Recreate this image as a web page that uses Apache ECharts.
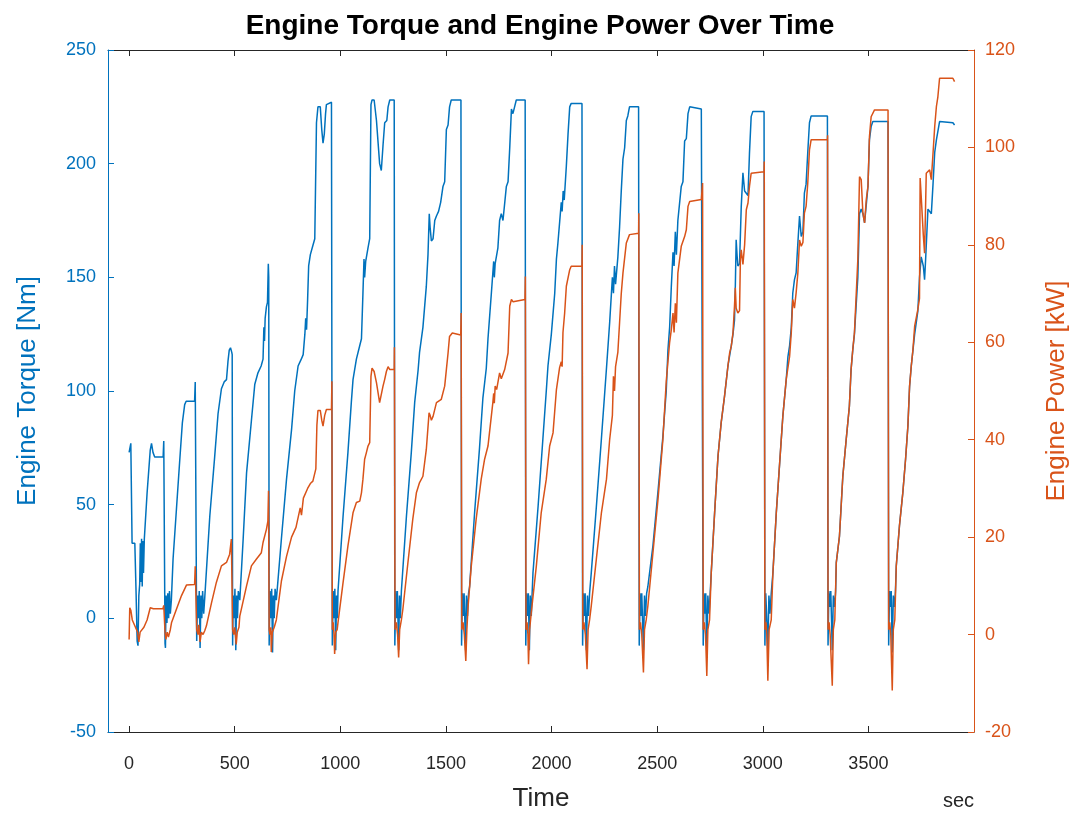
<!DOCTYPE html>
<html>
<head>
<meta charset="utf-8">
<script src="https://cdn.jsdelivr.net/npm/echarts@6/dist/echarts.min.js"></script>
<style>
html,body{margin:0;padding:0;background:#fff;}
#chart{width:1080px;height:817px;}
</style>
</head>
<body>
<div id="chart"></div>
<script>
// ---- data (time in sec) ----
const xTicks = [0, 500, 1000, 1500, 2000, 2500, 3000, 3500];

// Engine torque [Nm] : [time, value]
const torqueSeries = [
[0,73],[8,77],[12,77],[14,33],[27,33],[33,11],[38,-10],[42,-12],[46,10],[50,15],[53,33],[56,16],[59,35],[62,14],[65,34],[68,20],[72,35],[85,55],[100,74],[106,77],[113,73],[121,71],[161,71],[164,78],[168,78],
[170,-11],[172,-13],[175,10],[179,-2],[183,11],[187,0],[191,12],[195,2],[200,8],[208,26],[224,48],[240,70],[252,86],[263,94],[270,95.5],[310,95.5],[313,104],[318,104],
[320,-10],[324,10],[328,0],[332,12],[336,-13],[340,10],[344,0],[348,12],[353,2],[358,9],[382,45],[405,71],[421,90],[437,101],[450,104],[461,105],[468,113],[474,118],[480,119],[486,117],[488,116],
[490,-12],[493,10],[497,0],[501,13],[505,-14],[509,10],[513,0],[517,12],[524,8],[540,35],[556,64],[579,87],[595,103],[610,108],[625,111],[634,114],[638,128],[641,122],[644,132],[650,137],[655,139],[659,156],[661,150],
[663,-12],[667,12],[671,0],[675,13],[679,-15],[683,10],[687,0],[691,13],[697,8],[721,35],[745,61],[769,83],[784,100],[800,111],[815,114],[824,116],[832,125],[836,132],[840,127],[845,140],[850,155],[858,160],[870,164],[879,167],[887,218],[894,225],[905,225],[912,215],[918,209],[924,213],[930,222],[934,226],[958,227],
[962,-12],[966,12],[970,0],[974,13],[978,-14],[982,10],[986,0],[989,12],[1013,45],[1036,73],[1052,95],[1060,105],[1076,114],[1092,120],[1100,123],[1107,143],[1112,158],[1115,150],[1120,157],[1131,163],[1139,167],[1145,226],[1150,228],[1160,228],[1171,219],[1186,200],[1194,197],[1202,208],[1210,218],[1220,219],[1226,225],[1234,228],[1255,228],
[1258,-12],[1262,12],[1266,0],[1270,12],[1276,-14],[1280,10],[1284,0],[1289,12],[1313,45],[1336,73],[1352,95],[1368,109],[1375,117],[1391,128],[1407,146],[1415,160],[1421,178],[1425,172],[1431,166],[1439,167],[1447,175],[1455,177],[1465,179],[1475,183],[1486,190],[1494,192],[1502,215],[1510,217],[1517,225],[1525,228],[1571,228],
[1574,-12],[1578,11],[1582,1],[1586,11],[1593,-14],[1597,10],[1602,1],[1607,11],[1612,14],[1636,47],[1659,75],[1675,97],[1691,110],[1699,123],[1715,143],[1722,152],[1726,157],[1729,150],[1733,156],[1746,163],[1754,175],[1762,178],[1770,175],[1786,190],[1794,192],[1802,207],[1810,224],[1817,222],[1825,225],[1833,228],[1875,228],
[1878,-12],[1882,11],[1886,1],[1890,11],[1895,-14],[1899,10],[1904,1],[1908,11],[1912,20],[1936,49],[1959,79],[1975,100],[1983,111],[1999,125],[2015,143],[2023,158],[2030,165],[2046,183],[2050,179],[2055,188],[2060,184],[2070,199],[2078,213],[2086,225],[2093,226.5],[2144,226.5],
[2147,-12],[2151,11],[2155,1],[2159,11],[2165,-14],[2170,10],[2175,1],[2180,11],[2188,20],[2212,49],[2236,79],[2260,110],[2275,130],[2288,150],[2293,143],[2298,155],[2303,147],[2314,159],[2322,172],[2330,188],[2338,202],[2346,207],[2354,219],[2361,221],[2369,225],[2412,225],
[2415,-12],[2419,11],[2423,1],[2427,11],[2435,-14],[2440,10],[2445,1],[2450,11],[2456,14],[2480,32],[2504,56],[2527,80],[2543,100],[2551,118],[2559,128],[2567,146],[2575,161],[2580,155],[2586,170],[2591,160],[2598,175],[2614,190],[2622,192],[2630,210],[2638,211],[2646,222],[2654,225],[2709,224],[2715,224],
[2718,-12],[2722,11],[2726,2],[2730,11],[2735,-14],[2740,10],[2746,2],[2751,11],[2756,20],[2772,46.5],[2788,71.4],[2803,86],[2819,97.7],[2835,111],[2851,120],[2859,125],[2866,131],[2870,146],[2874,166.5],[2878,160],[2882,155],[2890,156],[2898,181],[2906,196],[2914,188],[2922,187],[2930,186],[2937,204.6],[2945,220.7],[2953,223],[3006,223],
[3010,-12],[3014,11],[3018,2],[3024,-14],[3029,10],[3034,2],[3040,11],[3048,20],[3064,46.5],[3080,68.4],[3095,89],[3111,105],[3119,115],[3127,120],[3135,128],[3142,143],[3150,149],[3158,152],[3166,165],[3174,177],[3182,168],[3190,170],[3197,187],[3205,191],[3213,205],[3221,218],[3229,221],[3306,221],
[3309,-12],[3313,12],[3317,5],[3322,12],[3329,-14],[3334,10],[3340,5],[3345,12],[3348,24.5],[3363,36],[3379,62.6],[3395,78.7],[3410,93.3],[3418,109.4],[3426,118],[3434,125],[3450,150],[3458,178],[3466,180],[3474,178],[3482,174],[3490,182],[3498,190],[3505,210.5],[3513,216.3],[3521,218.5],[3593,218.5],
[3596,-12],[3600,12],[3604,5],[3608,12],[3613,-15],[3618,10],[3624,5],[3628,12],[3632,23],[3647,40.6],[3663,55.3],[3676,70],[3687,84.5],[3695,102],[3703,111],[3711,118],[3719,125],[3734,135],[3742,150],[3750,159],[3760,155],[3766,149],[3771,158],[3782,180],[3790,179],[3798,178],[3806,191],[3814,205],[3822,210.5],[3837,218.5],[3900,218],[3908,217]
];

// Engine power [kW] : [time, value]
const powerSeries = [
[0,-1],[3,5.5],[8,5],[15,3],[30,1.5],[40,0.5],[46,-1.5],[52,0.5],[60,0.8],[70,1.5],[85,3],[100,5.5],[115,5.3],[160,5.3],[164,6],[168,6],
[170,0.5],[174,-1],[180,0.5],[186,-0.5],[195,1],[201,2.5],[224,5.2],[248,8],[272,10.2],[310,10.3],[313,14],[318,14],
[320,1],[326,0],[330,2],[336,-1.5],[342,0.5],[350,0],[358,0.8],[366,1.8],[390,6.5],[413,10.7],[437,14.1],[461,14.8],[476,16.5],[484,19.6],[488,20],
[490,1],[495,0],[500,1.5],[507,-2],[512,0.5],[520,1.5],[524,3.8],[556,10],[579,14.1],[603,15.5],[626,16.8],[634,18.9],[650,21.6],[657,23.3],[660,29.5],[661,29.5],
[663,1],[667,0],[671,1.5],[673,-3.6],[678,0.5],[687,1.5],[697,3],[721,11],[745,16],[769,20],[790,22],[810,26],[816,24.5],[825,28],[845,30],[858,31],[870,31.5],[884,34],[889,43],[894,46],[905,46],[912,44],[918,42.8],[926,45],[934,46.2],[958,46.2],[960,52],
[962,1],[966,2.5],[970,0],[973,-4],[978,0.5],[985,1],[989,2.5],[1013,10.7],[1036,18.2],[1060,25],[1076,27.1],[1092,27.4],[1100,29.1],[1107,31.9],[1115,36],[1123,37.3],[1131,38.7],[1139,39.4],[1145,53],[1150,54.7],[1160,54],[1171,51.7],[1186,47.6],[1194,47.2],[1202,51],[1210,52.4],[1218,54],[1226,55],[1234,54.4],[1255,54.4],[1256,59],
[1259,1],[1265,2.5],[1271,0],[1276,-4.7],[1281,1],[1289,3],[1296,5.2],[1320,14.8],[1343,23.7],[1360,29.1],[1375,31.2],[1391,32.5],[1407,38],[1420,45.5],[1425,45],[1431,44],[1439,44.8],[1455,47.6],[1478,48.3],[1494,51],[1502,54.4],[1510,57.8],[1517,61.2],[1530,61.9],[1570,61.5],[1572,66],
[1575,1],[1581,2.5],[1587,0],[1594,-5.4],[1599,1],[1605,5.9],[1620,14.1],[1643,23.7],[1667,31.9],[1683,36],[1699,38.7],[1722,47.6],[1726,49.5],[1729,47.5],[1733,51],[1740,50.3],[1754,53.7],[1762,52.5],[1778,54.4],[1794,57.8],[1802,67.4],[1810,68.8],[1818,68.3],[1874,68.8],[1876,73.5],
[1879,1],[1884,2.5],[1888,0],[1891,-6.1],[1896,1],[1904,4.5],[1928,14.1],[1951,25],[1975,31.9],[1991,38.7],[2007,41.4],[2023,50.3],[2038,54.8],[2046,56],[2050,55],[2054,62],[2062,66],[2070,71.5],[2086,74.9],[2093,75.6],[2144,75.6],[2145,80],
[2148,1],[2153,2.5],[2160,0],[2168,-7.1],[2173,1],[2180,3],[2188,5.9],[2212,15.5],[2236,25],[2260,31.9],[2275,40],[2288,45],[2293,53],[2298,50],[2303,55],[2314,58],[2322,64],[2330,70],[2338,74.2],[2354,80.4],[2369,82.1],[2412,82.4],[2413,86.5],
[2416,1],[2421,2.5],[2427,0],[2435,-7.8],[2440,1],[2448,3],[2456,5.9],[2480,16.8],[2504,27.8],[2527,40],[2543,52],[2559,60],[2567,62.6],[2575,66],[2580,62],[2586,68],[2591,64],[2598,74.2],[2614,79.7],[2630,81.7],[2638,83.1],[2646,87.9],[2654,88.9],[2709,89.3],[2715,92.7],
[2718,1],[2723,2.5],[2729,0],[2735,-8.5],[2740,1],[2748,3],[2756,12.7],[2772,25],[2788,36.6],[2803,43.5],[2819,49],[2835,55.1],[2843,57.8],[2851,59.2],[2859,62],[2866,67.4],[2870,71.2],[2874,67],[2882,66],[2890,66.5],[2894,77],[2898,79],[2906,76],[2914,80],[2922,87.2],[2930,88.6],[2937,92],[2945,94.7],[2953,95],[3006,95],[3007,97.1],
[3010,1],[3015,2.5],[3019,0],[3024,-9.5],[3030,1],[3040,3],[3048,12.7],[3064,25],[3080,35.3],[3095,44.8],[3111,52.4],[3127,57.1],[3135,62],[3142,68.8],[3150,67],[3158,70.2],[3166,74.2],[3174,81],[3182,79.7],[3190,80.5],[3197,86.5],[3205,87.9],[3213,92.7],[3221,99.5],[3229,101.6],[3306,101.6],[3307,102.5],
[3309,1],[3314,2.5],[3319,0],[3329,-10.5],[3334,1],[3341,3],[3348,14.8],[3363,20.2],[3379,32.5],[3395,40.1],[3410,46.9],[3418,54.4],[3426,58.5],[3434,62],[3450,77],[3458,94],[3466,93.4],[3474,86.5],[3482,84.5],[3490,89.3],[3498,92],[3505,102.2],[3513,106.3],[3529,107.7],[3593,107.7],[3594,108],
[3596,1],[3601,2.5],[3606,0],[3613,-11.5],[3618,1],[3625,3],[3632,14.1],[3647,22.3],[3663,29.1],[3676,36],[3687,42.8],[3695,51],[3703,55.1],[3711,58.5],[3719,63.3],[3734,66.7],[3742,69],[3745,93.7],[3750,90],[3760,82],[3766,78.3],[3774,94.7],[3790,95.4],[3798,93.4],[3806,98.8],[3814,104.3],[3822,108.4],[3829,110.4],[3837,114.2],[3900,114.2],[3908,113.5]
];

// ---- chart ----
const BLUE = '#0072BD', ORANGE = '#D95319', DARK = '#262626';
const FONT = "'Liberation Sans', Arial, Helvetica, sans-serif";
const plain = v => String(v);
const chart = echarts.init(document.getElementById('chart'), null, {renderer: 'canvas'});
chart.setOption({
  animation: false,
  backgroundColor: '#ffffff',
  textStyle: {fontFamily: FONT},
  title: {
    text: 'Engine Torque and Engine Power Over Time',
    left: 'center', top: 7,
    textStyle: {fontFamily: FONT, fontWeight: 'bold', fontSize: 28, color: '#000'}
  },
  grid: {left: 108, right: 106, top: 50, bottom: 84, containLabel: false},
  xAxis: [{
    type: 'value', min: -100, max: 4000, position: 'bottom',
    name: 'Time', nameLocation: 'middle', nameGap: 54,
    nameTextStyle: {fontFamily: FONT, fontSize: 26, color: DARK},
    axisLine: {show: true, onZero: false, lineStyle: {color: DARK, width: 1}},
    axisTick: {show: true, inside: true, length: 6, customValues: xTicks, lineStyle: {color: DARK}},
    axisLabel: {show: true, customValues: xTicks, formatter: plain, margin: 23, fontFamily: FONT, fontSize: 18, color: DARK},
    splitLine: {show: false}
  }, {
    type: 'value', min: -100, max: 4000, position: 'top',
    axisLine: {show: true, onZero: false, lineStyle: {color: DARK, width: 1}},
    axisTick: {show: true, inside: true, length: 6, customValues: xTicks, lineStyle: {color: DARK}},
    axisLabel: {show: false},
    splitLine: {show: false}
  }],
  yAxis: [{
    type: 'value', min: -50, max: 250, interval: 50, position: 'left',
    name: 'Engine Torque [Nm]', nameLocation: 'middle', nameGap: 67, nameRotate: 90,
    nameTextStyle: {fontFamily: FONT, fontSize: 26, color: BLUE},
    axisLine: {show: true, onZero: false, lineStyle: {color: BLUE, width: 1}},
    axisTick: {show: true, inside: true, length: 6, lineStyle: {color: BLUE}},
    axisLabel: {margin: 12, formatter: plain, fontFamily: FONT, fontSize: 18, color: BLUE},
    splitLine: {show: false}
  }, {
    type: 'value', min: -20, max: 120, interval: 20, position: 'right',
    name: 'Engine Power [kW]', nameLocation: 'middle', nameGap: 70, nameRotate: 90,
    nameTextStyle: {fontFamily: FONT, fontSize: 26, color: ORANGE},
    axisLine: {show: true, onZero: false, lineStyle: {color: ORANGE, width: 1}},
    axisTick: {show: true, inside: true, length: 6, lineStyle: {color: ORANGE}},
    axisLabel: {margin: 11, formatter: plain, fontFamily: FONT, fontSize: 18, color: ORANGE},
    splitLine: {show: false}
  }],
  graphic: [{
    type: 'text', right: 106, top: 791,
    style: {text: 'sec', fontFamily: FONT, fontSize: 20, fill: DARK}
  }],
  series: [{
    name: 'Engine Torque', type: 'line', xAxisIndex: 0, yAxisIndex: 0,
    data: torqueSeries, showSymbol: false, symbol: 'none',
    lineStyle: {color: BLUE, width: 1.5}, itemStyle: {color: BLUE}
  }, {
    name: 'Engine Power', type: 'line', xAxisIndex: 0, yAxisIndex: 1,
    data: powerSeries, showSymbol: false, symbol: 'none',
    lineStyle: {color: ORANGE, width: 1.5}, itemStyle: {color: ORANGE}
  }]
});
</script>
</body>
</html>
